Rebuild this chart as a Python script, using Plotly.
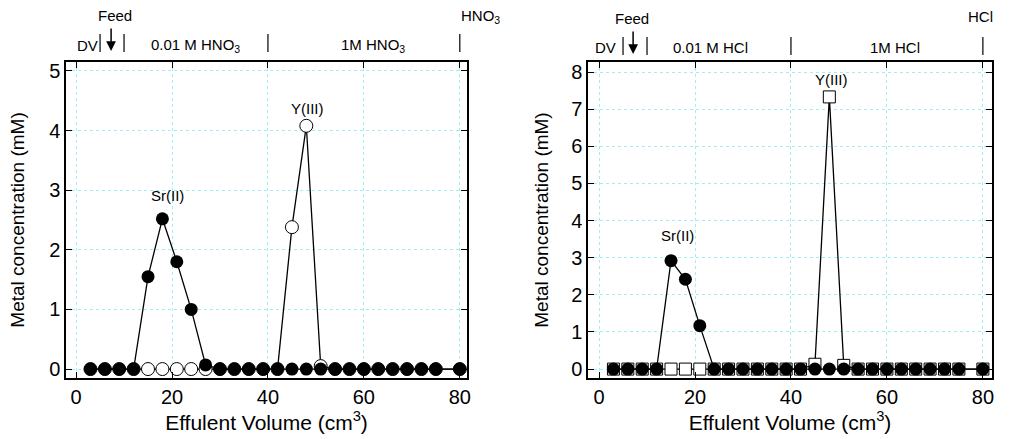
import plotly.graph_objects as go

# ---------------- data ----------------
volume = [3, 6, 9, 12, 15, 18, 21, 24, 27, 30, 33, 36, 39, 42, 45, 48, 51, 54, 57, 60, 63, 66, 69, 72, 75, 80]

sr_hno3 = [0, 0, 0, 0, 1.55, 2.52, 1.80, 1.00, 0.07, 0, 0, 0, 0, 0, 0, 0, 0, 0, 0, 0, 0, 0, 0, 0, 0, 0]
y_hno3 = [0, 0, 0, 0, 0, 0, 0, 0, 0, 0, 0, 0, 0, 0, 2.38, 4.08, 0.05, 0, 0, 0, 0, 0, 0, 0, 0, 0]

sr_hcl = [0, 0, 0, 0, 2.92, 2.42, 1.17, 0, 0, 0, 0, 0, 0, 0, 0, 0, 0, 0, 0, 0, 0, 0, 0, 0, 0, 0]
y_hcl = [0, 0, 0, 0, 0, 0, 0, 0, 0, 0, 0, 0, 0, 0, 0.13, 7.33, 0.10, 0, 0, 0, 0, 0, 0, 0, 0, 0]

x_ticks = [0, 20, 40, 60, 80]
y_ticks_hno3 = [0, 1, 2, 3, 4, 5]
y_ticks_hcl = [0, 1, 2, 3, 4, 5, 6, 7, 8]

# top eluent bars
bars_hno3 = [5, 10, 40, 80]
bars_hcl = [5, 10, 40, 80]

FONT = "Liberation Sans, Arial, sans-serif"
W, H = 1014, 439


def py(p):
    return 1 - p / H


fig = go.Figure()

# left panel (HNO3)
fig.add_trace(go.Scatter(x=volume, y=y_hno3, mode="lines+markers", xaxis="x", yaxis="y",
                         line=dict(color="black", width=1.3),
                         marker=dict(symbol="circle", size=13, color="white",
                                     line=dict(color="black", width=1)),
                         showlegend=False))
fig.add_trace(go.Scatter(x=volume, y=sr_hno3, mode="lines+markers", xaxis="x", yaxis="y",
                         line=dict(color="black", width=1.3),
                         marker=dict(symbol="circle", size=13, color="black"),
                         showlegend=False))
# right panel (HCl)
fig.add_trace(go.Scatter(x=volume, y=y_hcl, mode="lines+markers", xaxis="x2", yaxis="y2",
                         line=dict(color="black", width=1.3),
                         marker=dict(symbol="square", size=12, color="white",
                                     line=dict(color="black", width=1)),
                         showlegend=False))
fig.add_trace(go.Scatter(x=volume, y=sr_hcl, mode="lines+markers", xaxis="x2", yaxis="y2",
                         line=dict(color="black", width=1.3),
                         marker=dict(symbol="circle", size=13, color="black"),
                         showlegend=False))

axis_common = dict(
    showline=True, linecolor="black", linewidth=1.5, mirror="ticks",
    ticks="inside", ticklen=6, tickwidth=1.3, tickcolor="black",
    showgrid=True, gridcolor="#9ff0f5", griddash="dot", gridwidth=1,
    zeroline=False, automargin=False,
    tickfont=dict(family=FONT, size=20, color="black"),
)

ydom = [1 - 378 / H, 1 - 62 / H]
XTF = dict(family=FONT, size=21, color="black")
YTF = dict(family=FONT, size=19, color="black")

fig.update_layout(
    width=W, height=H,
    margin=dict(l=0, r=0, t=0, b=0),
    plot_bgcolor="white", paper_bgcolor="white",
    font=dict(family=FONT, color="black", size=15),
    xaxis=dict(domain=[66 / W, 467 / W], range=[-2.1, 81.5], tickvals=x_ticks,
               title=dict(text="Effulent Volume (cm<sup>3</sup>)", font=XTF, standoff=0),
               anchor="y", **axis_common),
    yaxis=dict(domain=ydom, range=[-0.15, 5.15], tickvals=y_ticks_hno3,
               title=dict(text="Metal concentration (mM)", font=YTF, standoff=19),
               anchor="x", **axis_common),
    xaxis2=dict(domain=[588 / W, 992 / W], range=[-2.3, 81.9], tickvals=x_ticks,
                title=dict(text="Effulent Volume (cm<sup>3</sup>)", font=XTF, standoff=0),
                anchor="y2", **axis_common),
    yaxis2=dict(domain=ydom, range=[-0.24, 8.27], tickvals=y_ticks_hcl,
                title=dict(text="Metal concentration (mM)", font=YTF, standoff=17),
                anchor="x2", **axis_common),
)

ann = []
shapes = []
AF = dict(family=FONT, size=15, color="black")
MID = dict(xanchor="center", yanchor="middle", showarrow=False, font=AF)

# peak labels
ann += [
    dict(x=19, y=2.91, xref="x", yref="y", text="Sr(II)", **MID),
    dict(x=48.2, y=4.37, xref="x", yref="y", text="Y(III)", **MID),
    dict(x=16.3, y=3.61, xref="x2", yref="y2", text="Sr(II)", **MID),
    dict(x=48.5, y=7.79, xref="x2", yref="y2", text="Y(III)", **MID),
]

# top labels, left
ann += [
    dict(x=8.1, y=py(16), xref="x", yref="paper", text="Feed", **MID),
    dict(x=7.3, y=py(51), xref="x", yref="paper", text="", showarrow=True, ax=0, ay=-24,
         arrowhead=2, arrowsize=1.3, arrowwidth=1.5, arrowcolor="black", font=AF),
    dict(x=2.3, y=py(45), xref="x", yref="paper", text="DV", **MID),
    dict(x=25, y=py(45), xref="x", yref="paper", text="0.01 M HNO<sub>3</sub>", **MID),
    dict(x=62, y=py(45), xref="x", yref="paper", text="1M HNO<sub>3</sub>", **MID),
    dict(x=480 / W, y=py(17), xref="paper", yref="paper", text="HNO<sub>3</sub>", **MID),
]
for b in bars_hno3:
    shapes.append(dict(type="line", xref="x", yref="paper", x0=b, x1=b, y0=py(34), y1=py(52),
                       line=dict(color="black", width=1.2)))

# top labels, right
ann += [
    dict(x=6.9, y=py(19), xref="x2", yref="paper", text="Feed", **MID),
    dict(x=7.1, y=py(54), xref="x2", yref="paper", text="", showarrow=True, ax=0, ay=-24,
         arrowhead=2, arrowsize=1.3, arrowwidth=1.5, arrowcolor="black", font=AF),
    dict(x=1.3, y=py(47), xref="x2", yref="paper", text="DV", **MID),
    dict(x=23.3, y=py(47), xref="x2", yref="paper", text="0.01 M HCl", **MID),
    dict(x=61.7, y=py(47), xref="x2", yref="paper", text="1M HCl", **MID),
    dict(x=980 / W, y=py(17), xref="paper", yref="paper", text="HCl", **MID),
]
for b in bars_hcl:
    shapes.append(dict(type="line", xref="x2", yref="paper", x0=b, x1=b, y0=py(37), y1=py(55),
                       line=dict(color="black", width=1.2)))

fig.update_layout(annotations=ann, shapes=shapes)

fig.write_html("out.html", config={"displayModeBar": False},
               post_script="document.body.style.margin='0';document.body.style.overflow='hidden';")
